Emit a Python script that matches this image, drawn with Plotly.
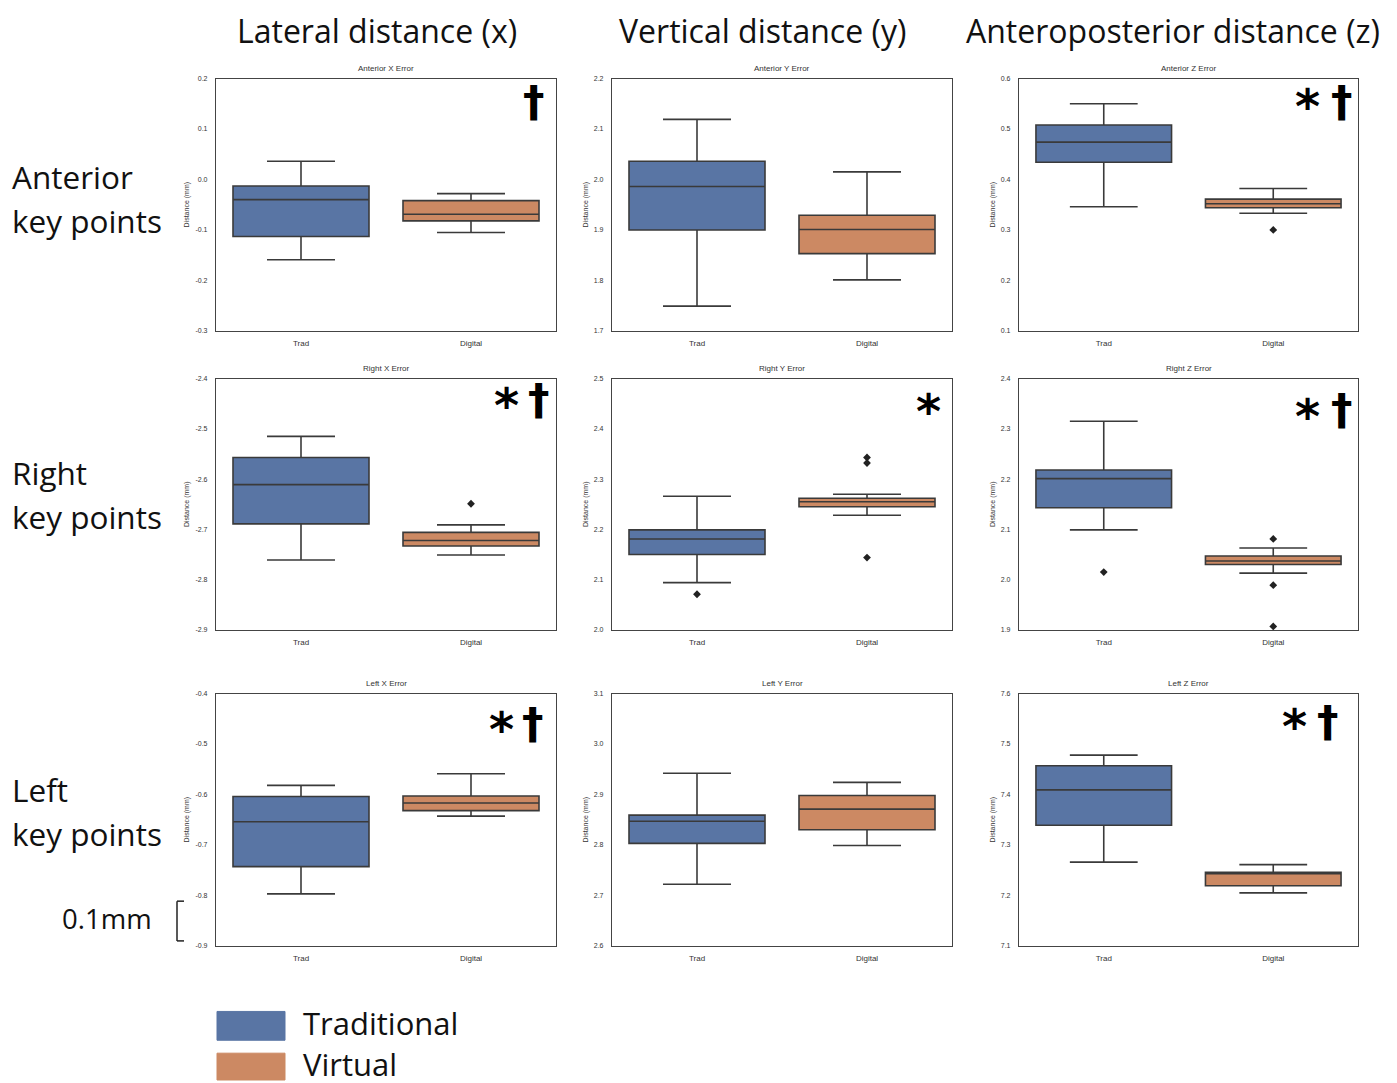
import plotly.graph_objects as go

W, H = 1397, 1083

# ---------------- data ----------------
panel_titles = ["Anterior X Error", "Anterior Y Error", "Anterior Z Error",
                "Right X Error", "Right Y Error", "Right Z Error",
                "Left X Error", "Left Y Error", "Left Z Error"]
categories = ["Trad", "Digital"]

trad_lower = [-0.159, 1.749, 0.346, -2.761, 2.094, 2.099, -0.797, 2.722, 7.266]
trad_q1 = [-0.113, 1.900, 0.434, -2.689, 2.150, 2.143, -0.743, 2.803, 7.339]
trad_median = [-0.040, 1.986, 0.474, -2.611, 2.181, 2.201, -0.654, 2.847, 7.409]
trad_q3 = [-0.013, 2.036, 0.508, -2.557, 2.199, 2.218, -0.604, 2.859, 7.457]
trad_upper = [0.036, 2.119, 0.550, -2.515, 2.266, 2.315, -0.582, 2.942, 7.478]

dig_lower = [-0.105, 1.801, 0.333, -2.751, 2.228, 2.013, -0.643, 2.799, 7.205]
dig_q1 = [-0.082, 1.853, 0.344, -2.733, 2.245, 2.030, -0.632, 2.830, 7.219]
dig_median = [-0.069, 1.901, 0.352, -2.722, 2.255, 2.037, -0.617, 2.871, 7.243]
dig_q3 = [-0.042, 1.929, 0.361, -2.706, 2.262, 2.047, -0.603, 2.898, 7.246]
dig_upper = [-0.028, 2.015, 0.382, -2.691, 2.270, 2.063, -0.559, 2.924, 7.261]

trad_outliers = [[], [], [], [], [2.071], [2.015], [], [], []]
dig_outliers = [[], [], [0.300], [-2.649], [2.343, 2.332, 2.144],
                [2.081, 1.989, 1.907], [], [], []]

y_ranges = [[-0.3, 0.2], [1.7, 2.2], [0.1, 0.6],
            [-2.9, -2.4], [2.0, 2.5], [1.9, 2.4],
            [-0.9, -0.4], [2.6, 3.1], [7.1, 7.6]]

# significance marks: asterisk (*) and dagger (†) per panel
has_asterisk = [False, False, True, True, True, True, True, False, True]
has_dagger = [True, False, True, True, False, True, True, False, True]

col_titles = ["Lateral distance (x)", "Vertical distance (y)", "Anteroposterior distance (z)"]
row_titles = [["Anterior", "key points"], ["Right", "key points"], ["Left", "key points"]]
legend_labels = ["Traditional", "Virtual"]
scale_label = "0.1mm"

# ---------------- styling / layout (pixel positions) ----------------
BLUE = "#5975A4"
ORANGE = "#CC8963"
EDGE = "#3A3A3A"
BIG_FONT = "Open Sans"

col_px = [(216, 556), (612, 952), (1019, 1358)]
row_px = [(75, 329), (377, 630), (694, 948)]
# centre of asterisk / dagger glyphs in pixels
asterisk_pos = [None, None, (1307, 100), (506, 401), (929, 407), (1307, 412),
                (501, 727), None, (1294, 724)]
dagger_pos = [(534, 101), None, (1342, 101), (539, 401), None, (1342, 411),
              (533, 727), None, (1328, 725)]


def px_x(p):
    return p / W


def px_y(p):
    return 1 - p / H


fig = go.Figure()
layout = dict(
    width=W, height=H,
    margin=dict(l=0, r=0, t=0, b=0),
    paper_bgcolor="white", plot_bgcolor="white",
    showlegend=False,
    font=dict(family="Liberation Sans, Arial", color="#333333"),
)
annotations = []
shapes = []

for i in range(9):
    r, c = divmod(i, 3)
    n = i + 1
    xa = "x" if n == 1 else f"x{n}"
    ya = "y" if n == 1 else f"y{n}"
    xkey = "xaxis" if n == 1 else f"xaxis{n}"
    ykey = "yaxis" if n == 1 else f"yaxis{n}"

    for cat, lo, q1, md, q3, hi, col in [
        (categories[0], trad_lower[i], trad_q1[i], trad_median[i], trad_q3[i], trad_upper[i], BLUE),
        (categories[1], dig_lower[i], dig_q1[i], dig_median[i], dig_q3[i], dig_upper[i], ORANGE),
    ]:
        fig.add_trace(go.Box(
            x=[cat], q1=[q1], median=[md], q3=[q3],
            lowerfence=[lo], upperfence=[hi],
            fillcolor=col, line=dict(color=EDGE, width=1.6),
            width=0.8, whiskerwidth=0.5,
            xaxis=xa, yaxis=ya, hoverinfo="skip",
        ))
    ox = [categories[0]] * len(trad_outliers[i]) + [categories[1]] * len(dig_outliers[i])
    oy = trad_outliers[i] + dig_outliers[i]
    if oy:
        fig.add_trace(go.Scatter(
            x=ox, y=oy, mode="markers",
            marker=dict(symbol="diamond", size=6, color="#222222"),
            xaxis=xa, yaxis=ya, hoverinfo="skip",
        ))

    x0, x1 = col_px[c]
    y0, y1 = row_px[r]
    lo_r, hi_r = y_ranges[i]
    ticks = [round(lo_r + k * 0.1, 1) for k in range(6)]
    layout[xkey] = dict(
        domain=[px_x(x0), px_x(x1)], anchor=ya,
        type="category", categoryorder="array", categoryarray=categories,
        range=[-0.5, 1.5],
        showline=True, mirror=True, linecolor="#444444", linewidth=1.2,
        showgrid=False, zeroline=False, ticks="",
        tickfont=dict(size=8, color="#333333"), ticklabelstandoff=4,
    )
    layout[ykey] = dict(
        domain=[px_y(y1), px_y(y0)], anchor=xa,
        range=[lo_r, hi_r],
        tickvals=ticks, ticktext=[f"{t:.1f}" for t in ticks],
        showline=True, mirror=True, linecolor="#444444", linewidth=1.2,
        showgrid=False, zeroline=False, ticks="",
        tickfont=dict(size=7, color="#333333"), ticklabelstandoff=6,
        title=dict(text="Distance (mm)", font=dict(size=7, color="#333333"), standoff=4),
    )
    # panel title
    annotations.append(dict(
        x=px_x((x0 + x1) / 2), y=px_y(y0 - 4), xref="paper", yref="paper",
        text=panel_titles[i], showarrow=False, xanchor="center", yanchor="bottom",
        font=dict(size=8, color="#333333", family="Liberation Sans, Arial"),
    ))
    # significance marks
    if has_asterisk[i]:
        ax_, ay_ = asterisk_pos[i]
        annotations.append(dict(
            x=px_x(ax_), y=px_y(ay_), xref="paper", yref="paper",
            text="<b>*</b>", showarrow=False, xanchor="center", yanchor="middle",
            yshift=-3,
            font=dict(size=48, color="black", family="DejaVu Sans"),
        ))
    if has_dagger[i]:
        dx_, dy_ = dagger_pos[i]
        annotations.append(dict(
            x=px_x(dx_), y=px_y(dy_), xref="paper", yref="paper",
            text="<b>†</b>", showarrow=False, xanchor="center", yanchor="middle",
            yshift=3,
            font=dict(size=43, color="black", family="DejaVu Sans"),
        ))

# column titles
col_centers = [377, 762, 1173]
for t, cx in zip(col_titles, col_centers):
    annotations.append(dict(
        x=px_x(cx), y=px_y(27), xref="paper", yref="paper", text=t,
        showarrow=False, xanchor="center", yanchor="middle",
        font=dict(size=32, color="#111111", family=BIG_FONT),
    ))

# row titles
row_text_y = [(174, 218), (472, 516), (791, 835)]
for lines, (ya_, yb_) in zip(row_titles, row_text_y):
    for txt, yy in zip(lines, (ya_, yb_)):
        annotations.append(dict(
            x=px_x(10), y=px_y(yy), xref="paper", yref="paper", text=txt,
            showarrow=False, xanchor="left", yanchor="middle",
            font=dict(size=31.5, color="#111111", family=BIG_FONT),
        ))

# scale bar
annotations.append(dict(
    x=px_x(154), y=px_y(920), xref="paper", yref="paper", text=scale_label,
    showarrow=False, xanchor="right", yanchor="middle",
    font=dict(size=27.5, color="#111111", family=BIG_FONT),
))
for seg in [((184, 903), (177, 903)), ((177, 903), (177, 943)), ((177, 943), (184, 943))]:
    (ax, ay), (bx, by) = seg
    shapes.append(dict(type="line", xref="paper", yref="paper",
                       x0=px_x(ax), y0=px_y(ay), x1=px_x(bx), y1=px_y(by),
                       line=dict(color="#222222", width=1.5)))

# legend
for lbl, col, (ty, by_) in zip(legend_labels, [BLUE, ORANGE], [(1014, 1043), (1056, 1083)]):
    shapes.append(dict(type="rect", xref="paper", yref="paper",
                       x0=px_x(217), x1=px_x(285), y0=px_y(by_), y1=px_y(ty),
                       fillcolor=col, line=dict(color=col, width=1)))
    annotations.append(dict(
        x=px_x(301), y=px_y((ty + by_) / 2 - 3), xref="paper", yref="paper", text=lbl,
        showarrow=False, xanchor="left", yanchor="middle",
        font=dict(size=31, color="#111111", family=BIG_FONT),
    ))

layout["annotations"] = annotations
layout["shapes"] = shapes
fig.update_layout(**layout)
fig.write_html("out.html", config={"displayModeBar": False},
               post_script="document.body.style.margin='0';")
